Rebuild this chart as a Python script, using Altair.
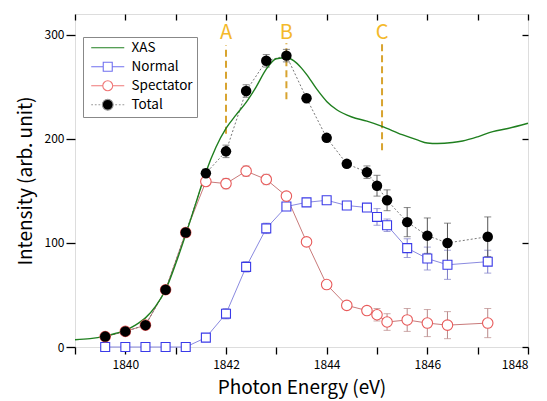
import altair as alt
import pandas as pd
import numpy as np

FONT = "Noto Sans CJK JP"

# ---- data ----
energy = [1839.6, 1840.0, 1840.4, 1840.8, 1841.2, 1841.6, 1842.0, 1842.4, 1842.8, 1843.2,
          1843.6, 1844.0, 1844.4, 1844.8, 1845.0, 1845.2, 1845.6, 1846.0, 1846.4, 1847.2]
total = [10, 15, 21, 55, 110, 167, 188, 246, 275, 280,
         239, 201, 176, 168, 155, 141, 120, 107, 100, 106]
total_err = [2, 3, 3, 3, 3, 4, 6, 6, 6, 6,
             3, 3, 3, 6, 10, 10, 14, 17, 19, 19]
normal = [0, 0, 0, 0, 0, 9, 32, 77, 114, 135,
          139, 141, 136, 134, 125, 117, 95, 85, 79, 82]
normal_err = [0, 0, 0, 0, 0, 1, 5, 5, 5, 3,
              2, 2, 2, 2, 8, 6, 9, 11, 14, 11]
spectator = [10, 15, 21, 55, 110, 159, 157, 169, 161, 145,
             101, 60, 40, 35, 31, 24, 26, 23, 21, 23]
spectator_err = [0, 0, 0, 0, 0, 3, 5, 5, 5, 3,
                 2, 2, 2, 2, 6, 8, 11, 13, 13, 14]

xas_energy = [1839.0, 1839.3, 1839.6, 1839.8, 1840.0, 1840.2, 1840.4, 1840.6, 1840.8, 1841.0,
              1841.2, 1841.4, 1841.6, 1841.8, 1842.0, 1842.2, 1842.4, 1842.6, 1842.8, 1843.0,
              1843.2, 1843.35, 1843.5, 1843.6, 1843.8, 1844.0, 1844.2, 1844.5, 1844.8, 1845.1,
              1845.5, 1845.8, 1846.0, 1846.2, 1846.5, 1846.7, 1847.0, 1847.3, 1847.6, 1848.0]
xas = [7, 8, 10.5, 13, 16, 21, 28, 39, 55, 80,
       108, 138, 168, 192, 210, 223, 235, 250, 267, 277,
       278, 275, 268, 262, 248, 236, 228, 221, 217, 212,
       204, 199, 196, 195.5, 196.5, 198, 202, 207, 210, 215]

marker_labels = ["A", "B", "C"]
marker_x = [1842.0, 1843.2, 1845.1]
marker_top = [290, 292, 292]
marker_bottom = [205, 238, 189]
marker_text_y = [302, 302, 302]

series_names = ["XAS", "Normal", "Spectator", "Total"]

x_ticks = [1839, 1840, 1841, 1842, 1843, 1844, 1845, 1846, 1847, 1848]
y_ticks = [0, 100, 200, 300]

# ---- tables ----
pts = pd.DataFrame({
    "E": energy,
    "total": total, "tlo": np.array(total) - np.array(total_err), "thi": np.array(total) + np.array(total_err),
    "normal": normal, "nlo": np.array(normal) - np.array(normal_err), "nhi": np.array(normal) + np.array(normal_err),
    "spec": spectator, "slo": np.array(spectator) - np.array(spectator_err), "shi": np.array(spectator) + np.array(spectator_err),
})
xas_df = pd.DataFrame({"E": xas_energy, "I": xas})
mk_df = pd.DataFrame({"lab": marker_labels, "E": marker_x, "top": marker_top,
                      "bot": marker_bottom, "ty": marker_text_y})
leg_df = pd.DataFrame({"series": series_names, "E": [np.nan] * 4, "I": [np.nan] * 4})

xs = alt.Scale(domain=[1839, 1848], nice=False, zero=False)
ys = alt.Scale(domain=[0, 320], nice=False, zero=False)

def X(axis=None):
    return alt.X("E:Q", scale=xs, axis=axis)

# colors
C_XAS = "#1f7f1f"
C_NL = "#8a8ae0"
C_NM = "#3a3ae8"
C_SL = "#c97a7a"
C_SM = "#e85a5a"
C_T = "#000000"

base = alt.Chart(pts)

bottom_axis = alt.Axis(values=x_ticks, labelExpr="datum.value % 2 == 0 ? datum.label : ''",
                       format="d", tickSize=7, tickColor="#000", tickWidth=1.3,
                       domain=False, grid=False, labelFontSize=12, labelFont=FONT,
                       labelPadding=5, title="Photon Energy (eV)", titleFontSize=19,
                       titleFont=FONT, titleFontWeight="normal", titlePadding=8, titleColor="#000",
                       labelColor="#000")
left_axis = alt.Axis(values=y_ticks, tickSize=9, tickColor="#000", tickWidth=1.3,
                     domain=False, grid=False, labelFontSize=12, labelFont=FONT,
                     labelPadding=2, title="Intensity (arb. unit)", titleFontSize=19,
                     titleFont=FONT, titleFontWeight="normal", titlePadding=9, titleColor="#000",
                     labelColor="#000")
top_axis = alt.Axis(orient="top", values=x_ticks, labels=False, tickSize=6, offset=-6,
                    tickColor="#000", tickWidth=1.3, domain=False, grid=False, title=None)
right_axis = alt.Axis(orient="right", values=y_ticks, labels=False, tickSize=6, offset=-6,
                      tickColor="#000", tickWidth=1.3, domain=False, grid=False, title=None)

def errbar(lo, hi, color):
    return base.mark_errorbar(ticks={"size": 7, "color": color}, color=color, thickness=1).encode(
        x=X(), y=alt.Y(f"{lo}:Q", scale=ys, axis=None, title=None), y2=f"{hi}:Q")

eb_n = errbar("nlo", "nhi", "#7c7cc8")
eb_s = errbar("slo", "shi", "#b98888")
eb_t = errbar("tlo", "thi", "#555555")

line_n = base.mark_line(color=C_NL, strokeWidth=1).encode(x=X(bottom_axis), y=alt.Y("normal:Q", scale=ys, axis=left_axis))
line_s = base.mark_line(color=C_SL, strokeWidth=1).encode(x=X(), y=alt.Y("spec:Q", scale=ys, axis=None))
line_t = base.mark_line(color="#777777", strokeWidth=1, strokeDash=[2, 2]).encode(x=X(), y=alt.Y("total:Q", scale=ys, axis=None))

xas_line = alt.Chart(xas_df).mark_line(color=C_XAS, strokeWidth=1.4, interpolate="monotone").encode(
    x=X(top_axis), y=alt.Y("I:Q", scale=ys, axis=right_axis))

pt_n = base.mark_point(shape="square", size=80, filled=True, fill="white", stroke=C_NM, strokeWidth=1.1, opacity=1).encode(
    x=X(), y=alt.Y("normal:Q", scale=ys, axis=None))
pt_s = base.mark_point(shape="circle", size=110, filled=True, fill="white", stroke=C_SM, strokeWidth=1.1, opacity=1).encode(
    x=X(), y=alt.Y("spec:Q", scale=ys, axis=None))
pt_t = base.mark_point(shape="circle", size=110, filled=True, color=C_T, opacity=1).encode(
    x=X(), y=alt.Y("total:Q", scale=ys, axis=None))

mk_rule = alt.Chart(mk_df).mark_rule(color="#d8a430", strokeWidth=2, strokeDash=[7, 4]).encode(
    x=X(), y=alt.Y("bot:Q", scale=ys, axis=None), y2="top:Q")
mk_text = alt.Chart(mk_df).mark_text(color="#f4b92a", fontSize=20, font=FONT, baseline="middle", align="center").encode(
    x=X(), y=alt.Y("ty:Q", scale=ys, axis=None), text="lab:N")

# legend symbols (line + marker as one path, shifted right so the line fits in the box)
P_XAS = "M-0.56,0H6.78"
P_N = "M-0.56,0H2.11M4.11,0H6.78M2.11,-1H4.11V1H2.11Z"
P_S = "M-0.56,0H2.01M4.21,0H6.78M4.21,0A1.1,1.1,0,1,1,2.01,0A1.1,1.1,0,1,1,4.21,0Z"
P_T = ("M-0.56,0H-0.16M0.24,0H0.64M1.04,0H1.44M4.78,0H5.18M5.58,0H5.98M6.38,0H6.78"
       "M4.31,0A1.2,1.2,0,1,1,1.91,0A1.2,1.2,0,1,1,4.31,0Z")

legend = alt.Legend(title=None, orient="none", legendX=8, legendY=23, padding=4,
                    strokeColor="#888888", fillColor="white", labelFont=FONT, labelFontSize=13.5,
                    labelColor="#000", symbolSize=81, symbolStrokeWidth=1.1, labelOffset=31,
                    rowPadding=4, symbolOpacity=1)
leg = alt.Chart(leg_df).mark_point(filled=False, opacity=1).encode(
    x=X(), y=alt.Y("I:Q", scale=ys, axis=None),
    stroke=alt.Stroke("series:N", scale=alt.Scale(domain=series_names, range=[C_XAS, "#7070f0", "#f07878", "#999999"]), legend=legend),
    fill=alt.Fill("series:N", scale=alt.Scale(domain=series_names, range=["transparent", "white", "white", "black"]), legend=legend),
    shape=alt.Shape("series:N", scale=alt.Scale(domain=series_names, range=[P_XAS, P_N, P_S, P_T]), legend=legend),
)

chart = alt.layer(
    mk_rule, eb_n, eb_s, eb_t, line_n, line_s, line_t, xas_line, pt_n, pt_s, pt_t, mk_text, leg
).resolve_axis(x="independent", y="independent").properties(
    width=453, height=333,
    autosize=alt.AutoSizeParams(type="none"),
    padding={"left": 67, "top": 6, "right": 10, "bottom": 54},
).configure_view(stroke="#000", strokeWidth=1.6).configure_legend(
    strokeColor="#888888", fillColor="white", padding=4, symbolOpacity=1
).configure(background="white")

chart.save("out.html", embed_options={"renderer": "svg", "actions": False})
